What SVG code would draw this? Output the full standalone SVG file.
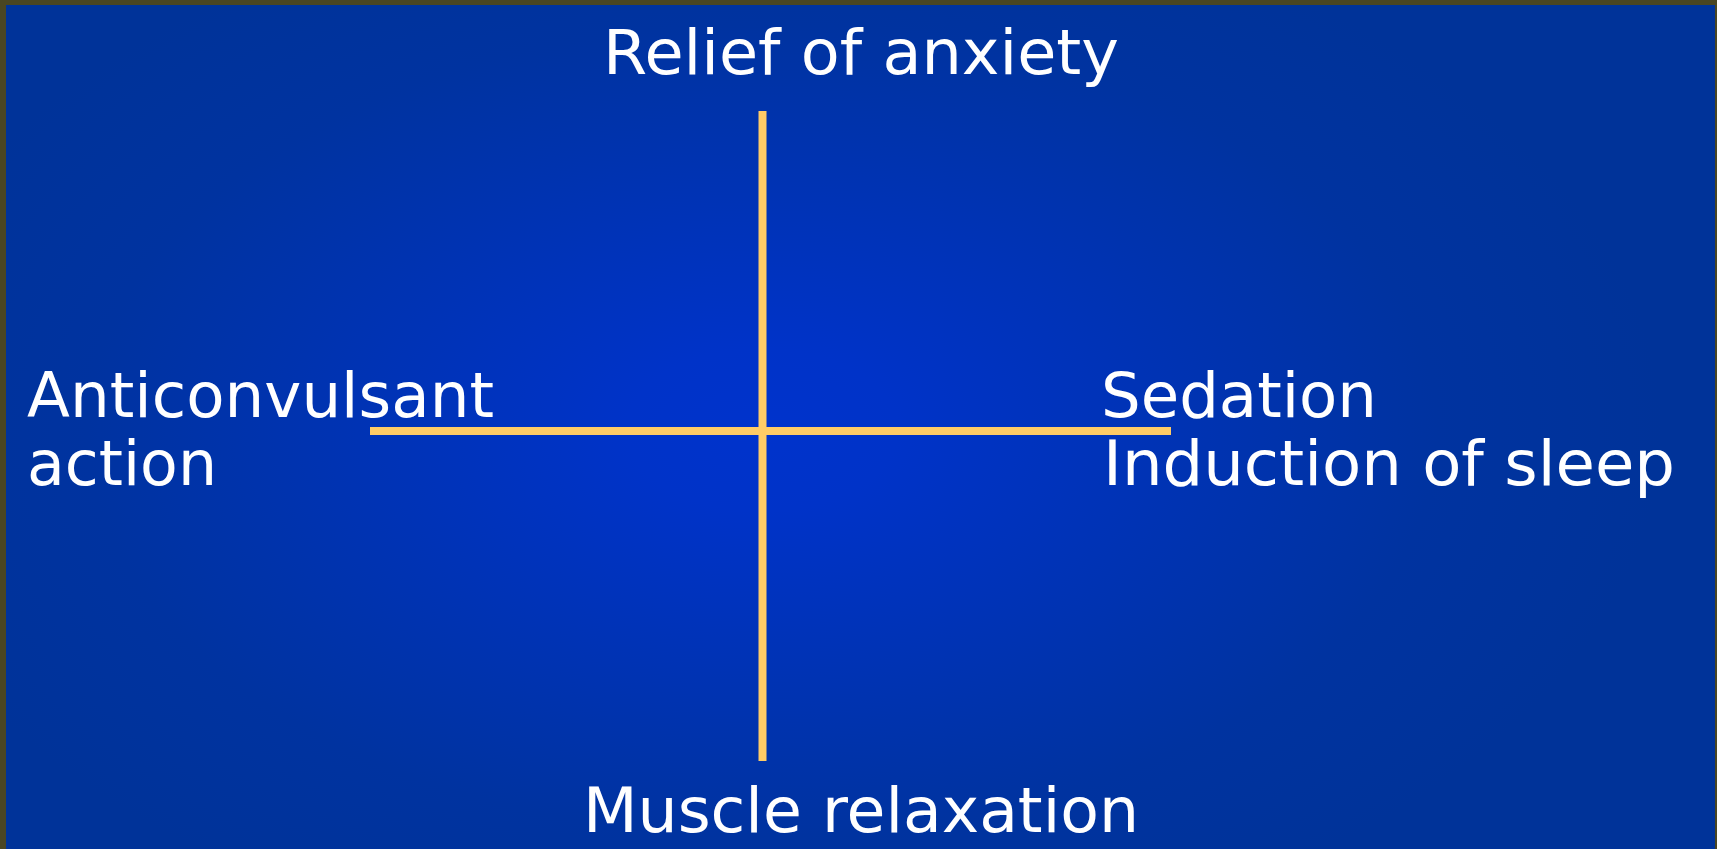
<svg xmlns="http://www.w3.org/2000/svg" width="1717" height="849" viewBox="0 0 1717 849">
<defs>
<radialGradient id="bg" gradientUnits="userSpaceOnUse" cx="762" cy="430" r="900" gradientTransform="translate(762 430) scale(1 0.6) translate(-762 -430)">
<stop offset="0" stop-color="#0033cc"/>
<stop offset="0.15" stop-color="#0033c8"/>
<stop offset="0.75" stop-color="#0033a0"/>
<stop offset="1" stop-color="#003399"/>
</radialGradient>
<style>
.t{font-family:"DejaVu Sans",sans-serif;font-size:63px;fill:#ffffff}
.ax{stroke:#ffcc66;stroke-width:8;fill:none}
</style>
</defs>
<rect x="0" y="0" width="1717" height="849" fill="#4a4622"/>
<rect x="6" y="5" width="1709" height="844" fill="url(#bg)"/>
<g id="connectors">
<line class="ax" x1="762.5" y1="111" x2="762.5" y2="761"/>
<line class="ax" x1="370" y1="431" x2="1171" y2="431"/>
</g>
<g id="top"><text class="t" x="603" y="74" textLength="516" lengthAdjust="spacingAndGlyphs">Relief of anxiety</text></g>
<g id="left"><text class="t" x="27" y="417" textLength="467" lengthAdjust="spacingAndGlyphs">Anticonvulsant</text>
<text class="t" x="27" y="485" textLength="190" lengthAdjust="spacingAndGlyphs">action</text></g>
<g id="right"><text class="t" x="1101" y="417" textLength="276" lengthAdjust="spacingAndGlyphs">Sedation</text>
<text class="t" x="1103" y="485" textLength="572" lengthAdjust="spacingAndGlyphs">Induction of sleep</text></g>
<g id="bottom"><text class="t" x="583" y="832" textLength="556" lengthAdjust="spacingAndGlyphs">Muscle relaxation</text></g>
</svg>
